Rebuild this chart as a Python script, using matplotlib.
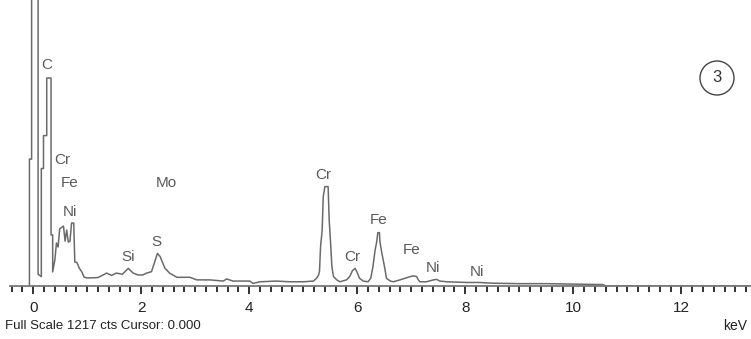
import matplotlib
matplotlib.use("Agg")
import matplotlib.pyplot as plt
from matplotlib.patches import Ellipse
from matplotlib.ticker import MultipleLocator

plt.rcParams["font.family"] = ["Liberation Sans", "DejaVu Sans"]

# ---------------------------------------------------------------------------
# Spectrum (keV, counts); full scale 1217 cts
# ---------------------------------------------------------------------------
energy_kev = [
    -0.07, -0.07, -0.03, -0.03, 0.09, 0.09, 0.15, 0.15, 0.19, 0.19, 0.25, 0.25,
    0.33, 0.33, 0.36, 0.36, 0.40, 0.43, 0.46, 0.49, 0.56, 0.59, 0.62, 0.65,
    0.68, 0.71, 0.75, 0.77, 0.81, 0.85, 0.90, 0.94, 1.00, 1.20, 1.36, 1.45,
    1.54, 1.65, 1.76, 1.85, 1.94, 2.03, 2.10, 2.19, 2.25, 2.30, 2.35, 2.40,
    2.44, 2.53, 2.66, 2.90, 3.03, 3.27, 3.52, 3.58, 3.70, 4.01, 4.07, 4.20,
    4.50, 4.75, 5.00, 5.19, 5.25, 5.28, 5.30, 5.32, 5.35, 5.37, 5.40, 5.42,
    5.46, 5.48, 5.51, 5.53, 5.56, 5.62, 5.68, 5.80, 5.86, 5.91, 5.96, 6.00,
    6.04, 6.11, 6.20, 6.25, 6.29, 6.33, 6.36, 6.38, 6.41, 6.42, 6.45, 6.48,
    6.51, 6.54, 6.61, 6.67, 6.79, 6.94, 6.98, 7.04, 7.10, 7.13, 7.16, 7.28,
    7.41, 7.47, 7.53, 7.66, 8.03, 8.26, 8.50, 9.00, 9.50, 10.00, 10.55, 10.60,
    13.29,
]
counts = [
    0, 540, 540, 1500, 1500, 50, 40, 500, 500, 640, 640, 885,
    885, 217, 217, 60, 110, 183, 166, 243, 255, 191, 238, 187,
    190, 268, 268, 102, 100, 77, 60, 38, 34, 36, 55, 45,
    55, 50, 75, 55, 47, 47, 55, 61, 103, 139, 125, 97,
    75, 54, 37, 37, 26, 26, 21, 30, 21, 21, 11, 18,
    21, 18, 18, 21, 34, 45, 61, 167, 238, 380, 423, 423,
    423, 281, 167, 82, 40, 26, 18, 26, 40, 65, 75, 57,
    33, 21, 18, 33, 82, 153, 188, 227, 227, 188, 146, 111,
    75, 33, 21, 18, 26, 37, 40, 43, 40, 26, 18, 18,
    26, 28, 21, 18, 15, 15, 12, 10, 10, 8, 6, 0,
    0,
]

# peak labels
peak_names = ["C", "Cr", "Fe", "Ni", "Si", "Mo", "S",
              "Cr", "Cr", "Fe", "Fe", "Ni", "Ni"]
peak_x = [0.25, 0.53, 0.68, 0.68, 1.76, 2.47, 2.28,
          5.37, 5.90, 6.39, 7.01, 7.41, 8.21]
peak_y = [940, 536, 438, 315, 123, 438, 187,
          472, 125, 281, 153, 75, 61]

tick_values = [0, 2, 4, 6, 8, 10, 12]
full_scale = 1217

# ---------------------------------------------------------------------------
fig = plt.figure(figsize=(7.51, 3.39), dpi=100)
ax = fig.add_axes([10 / 751, 53 / 339, 741 / 751, 286 / 339])

ax.plot(energy_kev, counts, color="#6a6a6a", lw=1.1)

for name, x, y in zip(peak_names, peak_x, peak_y):
    ax.text(x, y, name, fontsize=11, color="#5a5a5a", ha="center", va="center")

ax.set_xlim(-0.43, 13.29)
ax.set_ylim(0, full_scale)

for side in ["left", "right", "top"]:
    ax.spines[side].set_visible(False)
ax.spines["bottom"].set_color("#777777")
ax.spines["bottom"].set_linewidth(1.3)

ax.set_yticks([])
ax.set_xticks(tick_values)
ax.set_xticklabels([str(v) for v in tick_values])
ax.xaxis.set_minor_locator(MultipleLocator(0.2))
ax.tick_params(axis="x", which="major", length=6, width=1.3, color="#222222",
               labelsize=11, labelcolor="#222222", pad=5)
ax.tick_params(axis="x", which="minor", length=4, width=1.3, color="#222222")

fig.text(5 / 751, 1 - 326 / 339, "Full Scale 1217 cts Cursor: 0.000",
         fontsize=9.5, color="#222222", ha="left", va="center")
fig.text(735 / 751, 1 - 326 / 339, "keV", fontsize=10, color="#222222",
         ha="center", va="center")

# circled sample number
fig.add_artist(Ellipse((717 / 751, 1 - 78 / 339), 34 / 751, 34 / 339,
                       transform=fig.transFigure, fill=False,
                       ec="#444444", lw=1.0))
fig.text(717 / 751, 1 - 78 / 339, "3", fontsize=12, color="#333333",
         ha="center", va="center")

fig.savefig("out.png", dpi=100)
